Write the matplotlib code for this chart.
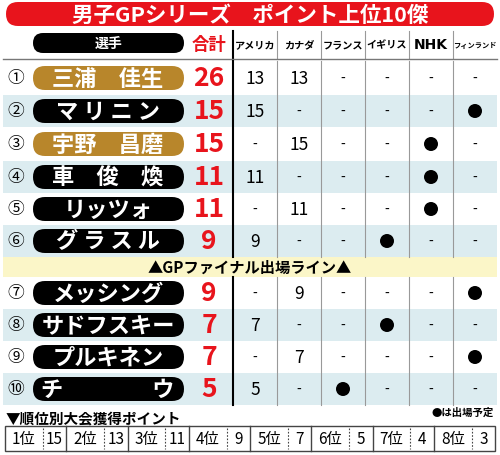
import matplotlib
matplotlib.use("Agg")
import matplotlib.pyplot as plt
from matplotlib.patches import FancyBboxPatch, Rectangle, Circle

plt.rcParams['font.family'] = ['Noto Sans CJK JP', 'DejaVu Sans']

ranks = ["①","②","③","④","⑤","⑥","⑦","⑧","⑨","⑩"]
names = ["三浦　佳生","マ リ ニ ン","宇野　昌磨","車　俊　煥","リッツォ","グ ラ ス ル",
         "メッシング","サドフスキー","プルキネン","チ　　　　ウ"]
totals = [26, 15, 15, 11, 11, 9, 9, 7, 7, 5]
gold = [True, False, True, False, False, False, False, False, False, False]
events = ["アメリカ","カナダ","フランス","イギリス","NHK","フィンランド"]
# "o" = scheduled to appear
results = [
    ["13","13","-","-","-","-"],
    ["15","-","-","-","-","o"],
    ["-","15","-","-","o","-"],
    ["11","-","-","-","o","-"],
    ["-","11","-","-","o","-"],
    ["9","-","-","o","-","-"],
    ["-","9","-","-","-","o"],
    ["7","-","-","o","-","-"],
    ["-","7","-","-","-","o"],
    ["5","-","o","-","-","-"],
]
place_labels = ["1位","2位","3位","4位","5位","6位","7位","8位"]
place_points = [15, 13, 11, 9, 7, 5, 4, 3]

fig = plt.figure(figsize=(5, 4.56), dpi=100)
ax = fig.add_axes([0, 0, 1, 1])
ax.set_xlim(0, 500); ax.set_ylim(456, 0); ax.axis('off')

RED = "#e8141c"; GOLD = "#b8862b"; BLUE = "#dcecf0"
# title
ax.add_patch(FancyBboxPatch((6, 3), 488, 24, boxstyle="round,pad=0,rounding_size=12", fc=RED, ec="none"))
ax.text(250, 15.5, "男子GPシリーズ　ポイント上位10傑", color="white", fontsize=15.5, fontweight="bold", ha="center", va="center")
# header
ax.add_patch(FancyBboxPatch((33, 34), 151, 20, boxstyle="round,pad=0,rounding_size=10", fc="black", ec="none"))
ax.text(109, 44, "選手", color="white", fontsize=10, ha="center", va="center", fontweight="bold")
ax.text(209, 45, "合計", color=RED, fontsize=12.5, ha="center", va="center", fontweight="bold")
cols = [233, 277, 321, 365, 409, 453, 497]
for i, e in enumerate(events):
    cx = (cols[i] + cols[i+1]) / 2
    if e == "NHK":
        ax.text(cx, 45, e, fontsize=10, ha="center", va="center", fontweight="bold", family=['DejaVu Sans'])
    else:
        fs = 5.2 if len(e) > 4 else 7.3
        ax.text(cx, 45, e, fontsize=fs, ha="center", va="center", fontweight="bold")
ax.plot([233, 233], [32, 60], color="black", lw=1.5)
for x in cols[1:-1]:
    ax.plot([x, x], [32, 60], color="#999999", lw=0.8)
ax.plot([3, 497], [60, 60], color="#777777", lw=1)

centers = [79, 112, 145, 178, 210, 242, 294, 326, 358, 390]
rh = 32
for i in range(10):
    cy = centers[i]
    if i % 2 == 1:
        ax.add_patch(Rectangle((3, cy - rh/2), 494, rh, fc=BLUE, ec="none"))
    ax.text(16, cy, ranks[i], fontsize=12, ha="center", va="center")
    ax.add_patch(FancyBboxPatch((33, cy - 12), 151, 24, boxstyle="round,pad=0,rounding_size=12",
                                fc=GOLD if gold[i] else "black", ec="none"))
    ax.text(108, cy, names[i], color="white", fontsize=16, ha="center", va="center", fontweight="bold")
    ax.text(209, cy, str(totals[i]), color=RED, fontsize=19, ha="center", va="center", fontweight="bold")
    for j, v in enumerate(results[i]):
        cx = (cols[j] + cols[j+1]) / 2
        if v == "o":
            ax.add_patch(Circle((cx, cy), 7, fc="black", ec="none"))
        else:
            ax.text(cx, cy, v, fontsize=12.5 if v != "-" else 10, ha="center", va="center")
for seg in [(62, 258), (278, 406)]:
    ax.plot([233, 233], seg, color="black", lw=1.5)
    for x in cols[1:-1]:
        ax.plot([x, x], seg, color="#999999", lw=0.8)
ax.add_patch(Rectangle((3, 258), 494, 20, fc="#fbf6c8", ec="none"))
ax.text(250, 268, "▲GPファイナル出場ライン▲", fontsize=11, ha="center", va="center", fontweight="bold")

# bottom
ax.text(6, 418, "▼順位別大会獲得ポイント", fontsize=10.5, ha="left", va="center", fontweight="bold")
ax.text(494, 413, "●は出場予定", fontsize=7.5, ha="right", va="center", fontweight="bold")
ax.add_patch(Rectangle((5, 427), 490, 25, fc="white", ec="#444444", lw=1))
seg_w = 490 / 8
for k in range(8):
    x0 = 5 + k * seg_w
    if k > 0:
        ax.plot([x0, x0], [427, 452], color="#444444", lw=1)
    xd = x0 + seg_w * 0.62
    ax.plot([xd, xd], [429, 450], color="#444444", lw=0.8, ls=(0, (1.5, 1.5)))
    ax.text(x0 + seg_w * 0.31, 440, place_labels[k], fontsize=11, ha="center", va="center")
    ax.text(x0 + seg_w * 0.81, 440, str(place_points[k]), fontsize=11, ha="center", va="center")

fig.savefig("out.png", dpi=100, facecolor="white")
